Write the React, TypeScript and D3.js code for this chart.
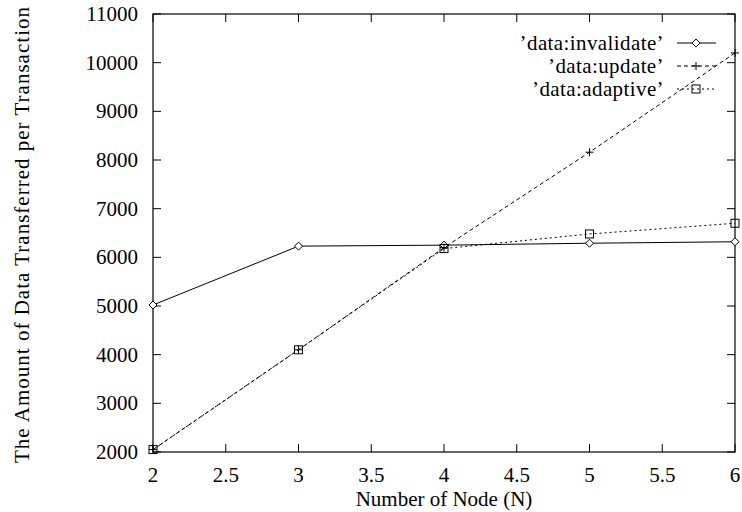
import React from 'react';
import * as d3 from 'd3';

const nodes = [2, 3, 4, 5, 6];
const invalidate = [5020, 6230, 6250, 6290, 6320];
const update = [2050, 4100, 6200, 8160, 10200];
const adaptive = [2050, 4100, 6180, 6480, 6700];
const xTicks = [2, 2.5, 3, 3.5, 4, 4.5, 5, 5.5, 6];
const yTicks = [2000, 3000, 4000, 5000, 6000, 7000, 8000, 9000, 10000, 11000];

const series = [
  { name: '\u2019data:invalidate\u2019', values: invalidate, dash: 'none', mark: 'diamond' },
  { name: '\u2019data:update\u2019', values: update, dash: '4,3', mark: 'plus' },
  { name: '\u2019data:adaptive\u2019', values: adaptive, dash: '2,3', mark: 'square' },
];

const W = 742;
const H = 512;
const left = 153, right = 735, top = 14, bottom = 452;
const font = 'Liberation Serif, Times New Roman, serif';
const fs = 21;

const Marker = ({ type, x, y }: { type: string; x: number; y: number }) => {
  const s = 4;
  if (type === 'diamond') {
    return <path d={`M${x},${y - s}L${x + s},${y}L${x},${y + s}L${x - s},${y}Z`} fill="white" stroke="black" strokeWidth={1} />;
  }
  if (type === 'plus') {
    return <path d={`M${x - s},${y}H${x + s}M${x},${y - s}V${y + s}`} stroke="black" strokeWidth={1} />;
  }
  return <rect x={x - s} y={y - s} width={2 * s} height={2 * s} fill="none" stroke="black" strokeWidth={1} />;
};

export default function App() {
  const x = d3.scaleLinear().domain([2, 6]).range([left, right]);
  const y = d3.scaleLinear().domain([2000, 11000]).range([bottom, top]);
  const line = d3.line<number>().x((_, i) => x(nodes[i])).y(d => y(d));
  const tick = 8;

  return (
    <svg width={W} height={H} style={{ position: 'absolute', left: 0, top: 0, fontFamily: font }}>
      <rect width={W} height={H} fill="white" />
      {yTicks.map(t => (
        <g key={t}>
          <line x1={left} x2={left + tick} y1={y(t)} y2={y(t)} stroke="black" />
          <line x1={right} x2={right - tick} y1={y(t)} y2={y(t)} stroke="black" />
          <text x={left - 15} y={y(t) + 7} textAnchor="end" fontSize={fs}>{t}</text>
        </g>
      ))}
      {xTicks.map(t => (
        <g key={t}>
          <line x1={x(t)} x2={x(t)} y1={bottom} y2={bottom - tick} stroke="black" />
          <line x1={x(t)} x2={x(t)} y1={top} y2={top + tick} stroke="black" />
          <text x={x(t)} y={bottom + 30} textAnchor="middle" fontSize={fs}>{t}</text>
        </g>
      ))}
      <rect x={left} y={top} width={right - left} height={bottom - top} fill="none" stroke="black" strokeWidth={1.2} />
      {series.map(s => (
        <g key={s.name}>
          <path d={line(s.values) || ''} fill="none" stroke="black" strokeWidth={1} strokeDasharray={s.dash} />
          {s.values.map((v, i) => <Marker key={i} type={s.mark} x={x(nodes[i])} y={y(v)} />)}
        </g>
      ))}
      {series.map((s, i) => {
        const ly = 43 + i * 23;
        return (
          <g key={'lg' + i}>
            <text x={664} y={ly + 7} textAnchor="end" fontSize={fs} letterSpacing={0.4}>{s.name}</text>
            <line x1={677} x2={716} y1={ly} y2={ly} stroke="black" strokeDasharray={s.dash} />
            <Marker type={s.mark} x={696} y={ly} />
          </g>
        );
      })}
      <text x={444} y={506} textAnchor="middle" fontSize={fs}>Number of Node (N)</text>
      <text transform={`translate(29,235) rotate(-90)`} textAnchor="middle" fontSize={fs}
        textLength={456} lengthAdjust="spacing">
        The Amount of Data Transferred per Transaction
      </text>
    </svg>
  );
}
